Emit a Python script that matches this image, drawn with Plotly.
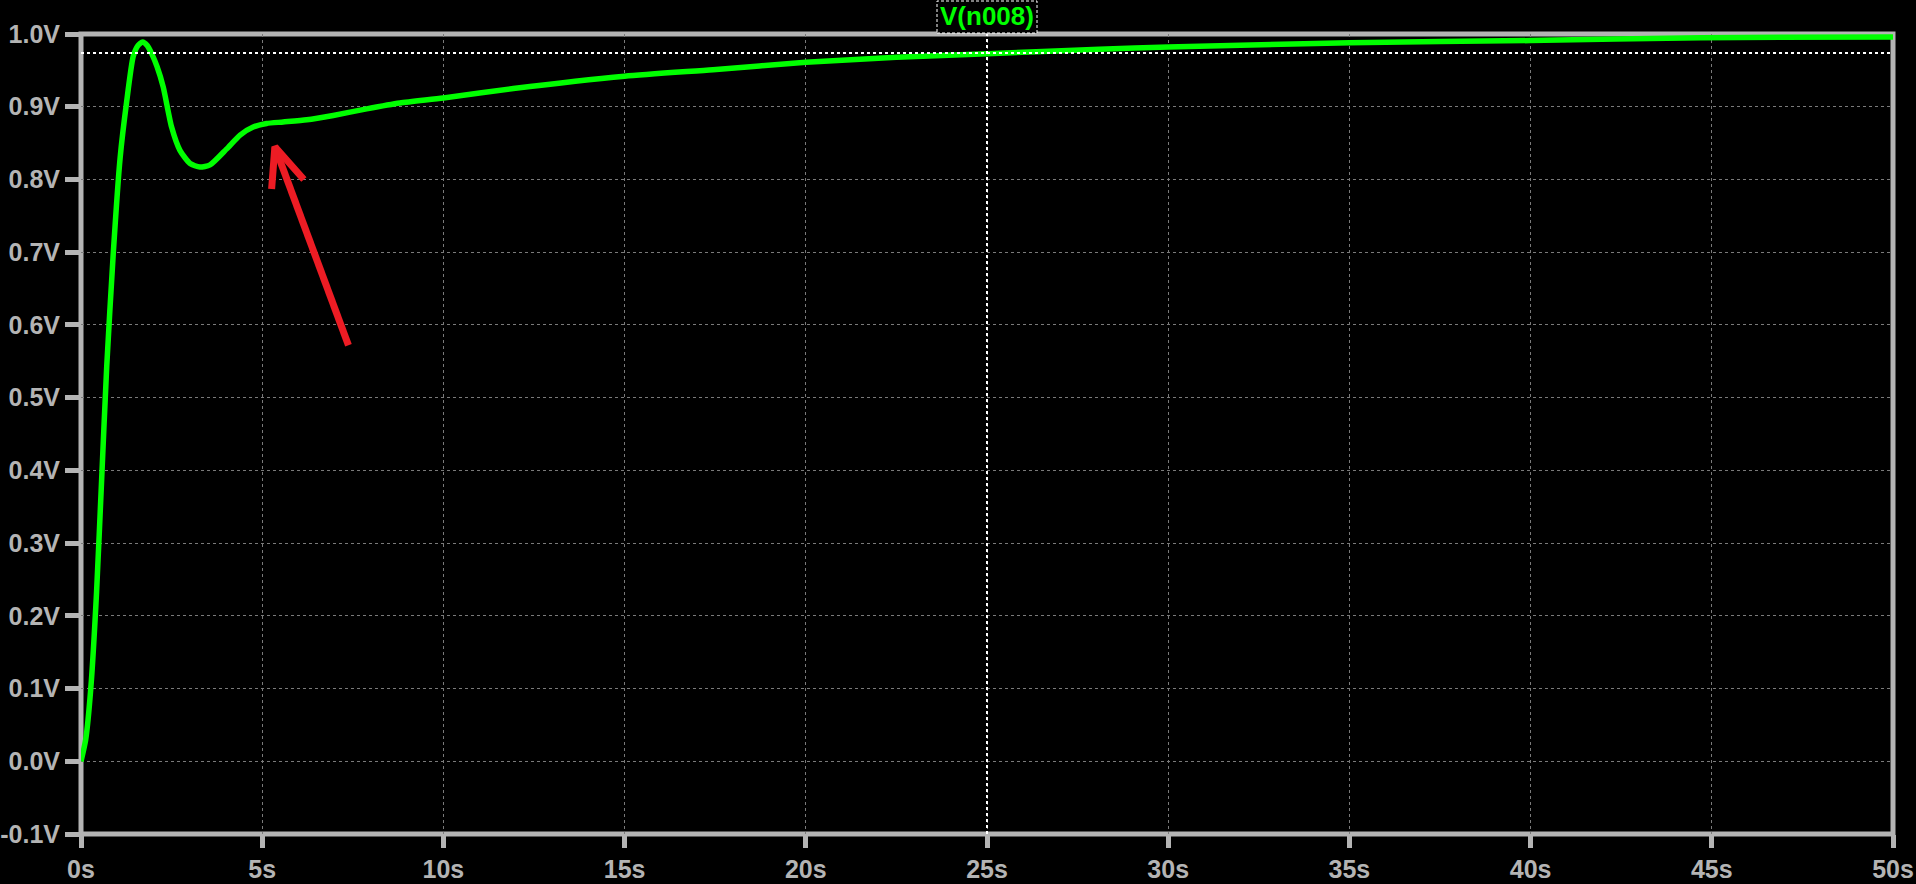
import plotly.graph_objects as go

# Waveform V(n008)
time_s = [0, 0.13, 0.27, 0.43, 0.57, 0.71, 0.89, 1.08, 1.26, 1.44, 1.57, 1.70, 1.83,
          1.95, 2.10, 2.27, 2.50, 2.73, 3.01, 3.28, 3.56, 4.02, 4.39, 4.75, 5.12,
          5.58, 6.23, 6.96, 7.88, 8.80, 10.0, 11.93, 15.0, 17.44, 20.0, 22.5, 25.0,
          28.1, 30.0, 35.0, 40.0, 44.7, 50.0]
volts = [0, 0.030, 0.100, 0.233, 0.388, 0.543, 0.698, 0.830, 0.907, 0.969, 0.984,
         0.989, 0.984, 0.973, 0.955, 0.927, 0.872, 0.840, 0.822, 0.817, 0.820, 0.842,
         0.861, 0.872, 0.877, 0.879, 0.882, 0.888, 0.897, 0.905, 0.912, 0.925, 0.942,
         0.951, 0.961, 0.968, 0.973, 0.979, 0.982, 0.988, 0.991, 0.995, 0.996]
trace_name = "V(n008)"

# Cursor
cursor_t = 25.0
cursor_v = 0.974

# Hand-drawn red arrow (shaft + two barbs), in data units
arrow_t = [7.38, 5.35, None, 5.26, 5.35, 6.15]
arrow_v = [0.572, 0.845, None, 0.787, 0.845, 0.800]

# Axes
x_ticks = [0, 5, 10, 15, 20, 25, 30, 35, 40, 45, 50]
y_ticks = [-0.1, 0.0, 0.1, 0.2, 0.3, 0.4, 0.5, 0.6, 0.7, 0.8, 0.9, 1.0]
x_ticktext = [f"{t}s" for t in x_ticks]
y_ticktext = [f"{v:.1f}V" for v in y_ticks]

GRAY = "#b4b4b4"
GRID = "#7a7a7a"
GREEN = "#00ff00"
FONT = "Liberation Sans, Arial, sans-serif"

fig = go.Figure()
fig.add_trace(go.Scatter(x=time_s, y=volts, mode="lines", name=trace_name,
                         line=dict(color=GREEN, width=5.5, shape="spline", smoothing=0.6),
                         hoverinfo="skip"))
fig.add_trace(go.Scatter(x=arrow_t, y=arrow_v, mode="lines",
                         line=dict(color="#ed1c24", width=7), hoverinfo="skip"))

axis_common = dict(
    showline=False, zeroline=False, showgrid=True, gridcolor=GRID, gridwidth=1,
    griddash="3px,3px", ticks="outside", tickcolor=GRAY, tickwidth=5, automargin=False,
    ticklabelstandoff=0,
)
fig.update_xaxes(range=[0, 50], tickmode="array", tickvals=x_ticks, ticktext=x_ticktext,
                 ticklen=13, tickfont=dict(family=FONT, size=25, color=GRAY, weight="bold"),
                 **axis_common)
fig.update_yaxes(range=[-0.1, 1.0], tickmode="array", tickvals=y_ticks, ticktext=y_ticktext,
                 ticklen=15, tickfont=dict(family=FONT, size=25, color=GRAY, weight="bold"),
                 **axis_common)

shapes = [
    # frame
    dict(type="rect", xref="paper", yref="paper", x0=0, x1=1, y0=0, y1=1,
         line=dict(color=GRAY, width=5), layer="between"),
    # cursor lines
    dict(type="line", xref="x", yref="paper", x0=cursor_t, x1=cursor_t, y0=0, y1=1,
         line=dict(color="white", width=2, dash="3px,3px"), layer="above"),
    dict(type="line", xref="paper", yref="y", x0=0, x1=1, y0=cursor_v, y1=cursor_v,
         line=dict(color="white", width=2, dash="3px,3px"), layer="above"),
    # label box
    dict(type="rect", xref="x", yref="paper", xsizemode="pixel", ysizemode="pixel",
         xanchor=cursor_t, yanchor=1, x0=-50, x1=50, y0=1, y1=33,
         fillcolor="black", line=dict(color="white", width=1, dash="3px,2px"), layer="above"),
]
fig.update_layout(
    width=1916, height=884,
    margin=dict(l=81, r=23, t=34, b=50, autoexpand=False),
    paper_bgcolor="black", plot_bgcolor="black",
    showlegend=False,
    shapes=shapes,
    annotations=[dict(x=cursor_t, y=1, xref="x", yref="paper", text=trace_name,
                      showarrow=False, yanchor="middle", yshift=18,
                      font=dict(family=FONT, size=26, color=GREEN, weight="bold"))],
)
fig.write_html("out.html", config={"displayModeBar": False},
               post_script="document.body.style.margin='0';document.body.style.overflow='hidden';document.body.style.background='black';")
